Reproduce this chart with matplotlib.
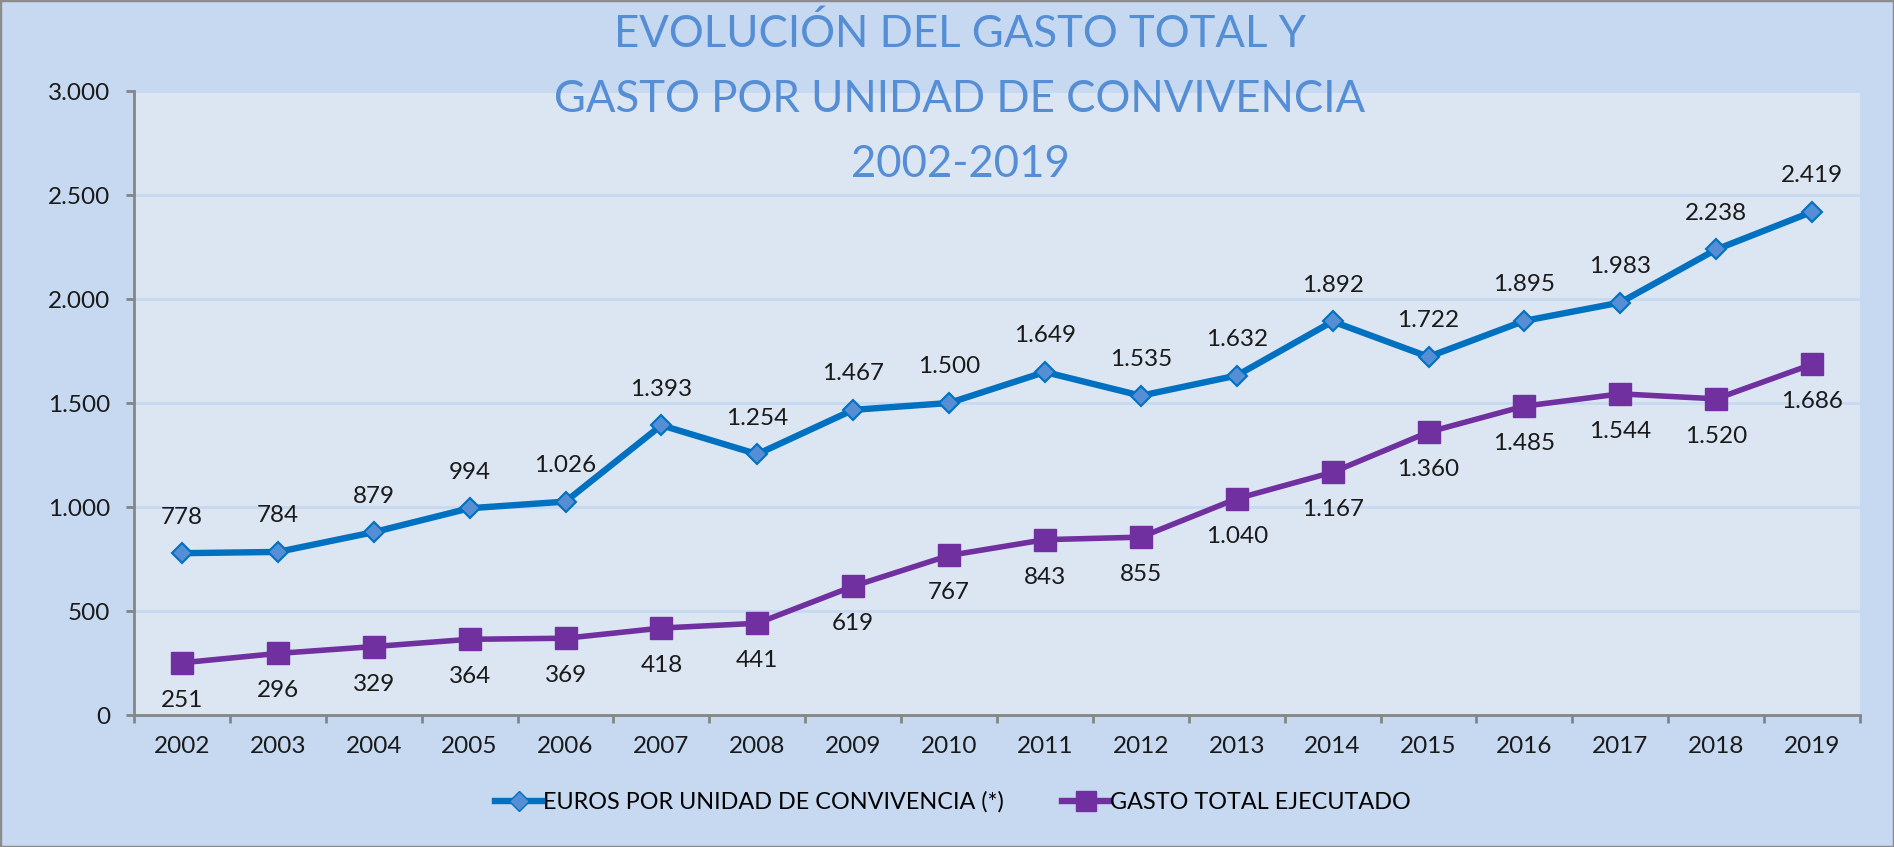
import matplotlib
matplotlib.use('Agg')
import matplotlib.pyplot as plt
from matplotlib.lines import Line2D
from matplotlib.patches import Rectangle

plt.rcParams['font.family'] = ['Lato', 'DejaVu Sans']

years = [str(y) for y in range(2002, 2020)]
euros_uc = [778, 784, 879, 994, 1026, 1393, 1254, 1467, 1500, 1649,
            1535, 1632, 1892, 1722, 1895, 1983, 2238, 2419]
gasto_total = [251, 296, 329, 364, 369, 418, 441, 619, 767, 843,
               855, 1040, 1167, 1360, 1485, 1544, 1520, 1686]
y_ticks = [0, 500, 1000, 1500, 2000, 2500, 3000]
title_lines = ['EVOLUCIÓN DEL GASTO TOTAL Y',
               'GASTO POR UNIDAD DE CONVIVENCIA',
               '2002-2019']
legend_labels = ['EUROS POR UNIDAD DE CONVIVENCIA (*)', 'GASTO TOTAL EJECUTADO']

BLUE = '#0070C0'
BLUE_FACE = '#558ED5'
PURPLE = '#7030A0'
GREY = '#868686'
TXT = '#1A1A1A'
W, H = 1894, 847
FS = 17.5


def fmt(v):
    return f'{v:,}'.replace(',', '.')


fig = plt.figure(figsize=(W / 100, H / 100), dpi=100)
fig.patch.set_facecolor('#C6D9F1')
fig.patches.append(Rectangle((0, 0), 1, 1, transform=fig.transFigure, fill=False,
                             edgecolor='#8C8C8C', lw=2.5))

# plot area in pixels: x 134..1860, y 91..715
ax = fig.add_axes([134 / W, 1 - 715 / H, (1860 - 134) / W, (715 - 91) / H])
ax.set_facecolor('#DCE6F2')

x = list(range(len(years)))
ax.plot(x, euros_uc, color=BLUE, lw=4.6, marker='D', markersize=10,
        markerfacecolor=BLUE_FACE, markeredgecolor=BLUE, markeredgewidth=1.5, zorder=3)
ax.plot(x, gasto_total, color=PURPLE, lw=4, marker='s', markersize=16,
        markerfacecolor=PURPLE, markeredgecolor=PURPLE, zorder=3)

for xi, v in zip(x, euros_uc):
    ax.annotate(fmt(v), (xi, v), xytext=(0, 26), textcoords='offset points',
                ha='center', va='center', fontsize=FS, color=TXT)
for xi, v in zip(x, gasto_total):
    ax.annotate(fmt(v), (xi, v), xytext=(0, -27), textcoords='offset points',
                ha='center', va='center', fontsize=FS, color=TXT)

ax.set_xlim(-0.5, len(years) - 0.5)
ax.set_ylim(0, 3000)
ax.set_yticks(y_ticks)
ax.set_yticklabels([fmt(t) for t in y_ticks])
ax.set_xticks(x)
ax.set_xticklabels(years)
ax.set_xticks([i - 0.5 for i in range(len(years) + 1)], minor=True)

ax.yaxis.grid(True, color='#C6D9F1', lw=2)
ax.set_axisbelow(True)
for s in ['top', 'right']:
    ax.spines[s].set_visible(False)
for s in ['left', 'bottom']:
    ax.spines[s].set_color(GREY)
    ax.spines[s].set_linewidth(2)

ax.tick_params(axis='y', length=6, width=2, color=GREY, pad=11,
               labelsize=FS, labelcolor=TXT)
ax.tick_params(axis='x', which='major', length=0, pad=15,
               labelsize=FS, labelcolor=TXT)
ax.tick_params(axis='x', which='minor', length=6, width=2, color=GREY)

# title, three centred lines (baselines in px)
for line, yb in zip(title_lines, [47, 112, 177]):
    fig.text(960 / W, 1 - yb / H, line, ha='center', va='baseline',
             fontsize=31.5, color=BLUE_FACE)

handles = [
    Line2D([], [], color=BLUE, lw=4.6, marker='D', markersize=10,
           markerfacecolor=BLUE_FACE, markeredgecolor=BLUE),
    Line2D([], [], color=PURPLE, lw=4.6, marker='s', markersize=14,
           markerfacecolor=PURPLE, markeredgecolor=PURPLE),
]
fig.legend(handles, legend_labels, loc='center', bbox_to_anchor=(953 / W, 1 - 802 / H),
           ncol=2, frameon=False, fontsize=16.8, handlelength=2.0,
           handletextpad=0.05, columnspacing=2.5, numpoints=1)

fig.savefig('out.png', dpi=100, facecolor=fig.get_facecolor())
